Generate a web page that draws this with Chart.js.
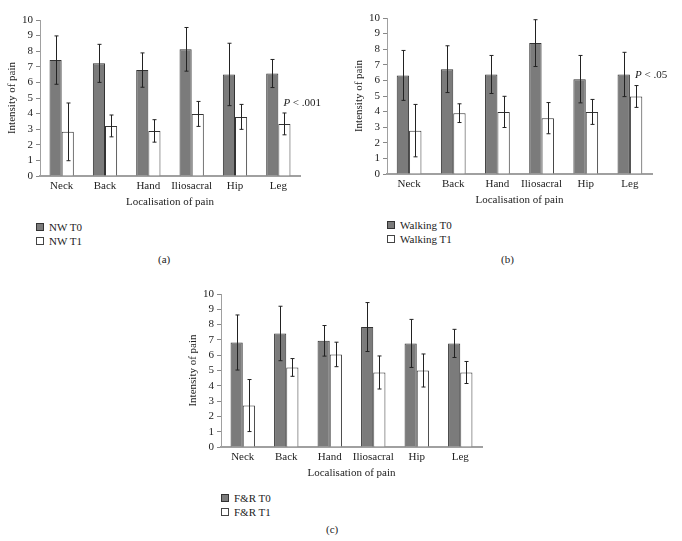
<!DOCTYPE html>
<html>
<head>
<meta charset="utf-8">
<script src="https://cdn.jsdelivr.net/npm/chart.js@4.4.1/dist/chart.umd.min.js"></script>
<style>
  body { margin: 0; background: #fff; }
  #wrap { position: relative; width: 682px; height: 541px; overflow: hidden; font-family: "Liberation Serif", "DejaVu Serif", serif; color: #222; }
  canvas { position: absolute; }
  .legend { position: absolute; font-size: 11px; line-height: 14px; }
  .legend div { white-space: nowrap; }
  .legend span.sw { display: inline-block; width: 6px; height: 6px; margin-right: 5px; vertical-align: 0px; }
  .cap { position: absolute; font-size: 11px; }
</style>
</head>
<body>
<div id="wrap">
  <canvas id="chartA" style="left:0px;top:0px"></canvas>
  <canvas id="chartB" style="left:347px;top:0px"></canvas>
  <canvas id="chartC" style="left:181px;top:274px"></canvas>
  <div class="legend" id="legendA" style="left:36px;top:220px"></div>
  <div class="legend" id="legendB" style="left:387px;top:218px"></div>
  <div class="legend" id="legendC" style="left:221px;top:491px"></div>
  <div class="cap" style="left:158px;top:253px">(a)</div>
  <div class="cap" style="left:501px;top:253px">(b)</div>
  <div class="cap" style="left:326px;top:523px">(c)</div>
</div>
<script>
// Dữ liệu
const categories = ['Neck', 'Back', 'Hand', 'Iliosacral', 'Hip', 'Leg'];

const nwT0 = [7.43, 7.22, 6.79, 8.12, 6.51, 6.57];
const nwT0Err = [1.55, 1.22, 1.1, 1.4, 2.0, 0.9];
const nwT1 = [2.83, 3.21, 2.89, 3.98, 3.79, 3.34];
const nwT1Err = [1.85, 0.7, 0.72, 0.8, 0.8, 0.7];

const walkT0 = [6.32, 6.72, 6.38, 8.39, 6.08, 6.38];
const walkT0Err = [1.6, 1.5, 1.22, 1.5, 1.52, 1.42];
const walkT1 = [2.78, 3.9, 3.98, 3.58, 3.98, 4.97];
const walkT1Err = [1.68, 0.6, 1.0, 1.0, 0.8, 0.7];

const frT0 = [6.83, 7.42, 6.94, 7.84, 6.77, 6.77];
const frT0Err = [1.8, 1.78, 1.0, 1.6, 1.57, 0.92];
const frT1 = [2.71, 5.2, 6.05, 4.87, 5.0, 4.87];
const frT1Err = [1.7, 0.58, 0.8, 1.08, 1.08, 0.72];

const yTicks = [0, 1, 2, 3, 4, 5, 6, 7, 8, 9, 10];

const FONT = '"Liberation Serif", "DejaVu Serif", serif';
const DARK = '#7b7b7b';

// Vẽ thanh sai số
const errorBarPlugin = {
    id: 'errorBars',
    afterDatasetsDraw(chart) {
        const ctx = chart.ctx;
        const yScale = chart.scales.y;
        chart.data.datasets.forEach((ds, di) => {
            const meta = chart.getDatasetMeta(di);
            ctx.save();
            ctx.strokeStyle = '#222';
            ctx.lineWidth = 1;
            meta.data.forEach((bar, i) => {
                const v = ds.data[i], e = ds.errors[i];
                const x = Math.round(bar.x) + 0.5;
                const yTop = yScale.getPixelForValue(v + e);
                const yBot = yScale.getPixelForValue(v - e);
                ctx.beginPath();
                ctx.moveTo(x, yTop); ctx.lineTo(x, yBot);
                ctx.moveTo(x - 2, yTop); ctx.lineTo(x + 2, yTop);
                ctx.moveTo(x - 2, yBot); ctx.lineTo(x + 2, yBot);
                ctx.stroke();
            });
            ctx.restore();
        });
    }
};

// Ghi chú giá trị P
const pNotePlugin = {
    id: 'pNote',
    afterDraw(chart, args, opts) {
        if (!opts || !opts.text) return;
        const ctx = chart.ctx;
        const meta = chart.getDatasetMeta(1);
        const bar = meta.data[opts.index];
        const x = bar.x - 1;
        const y = chart.scales.y.getPixelForValue(opts.value);
        ctx.save();
        ctx.fillStyle = '#222';
        ctx.textBaseline = 'middle';
        ctx.textAlign = 'left';
        ctx.font = 'italic 11px ' + FONT;
        ctx.fillText('P', x, y);
        const w = ctx.measureText('P ').width;
        ctx.font = '11px ' + FONT;
        ctx.fillText(opts.text, x + w, y);
        ctx.restore();
    }
};

function makeChart(canvasId, width, height, padTop, padRight, labels, t0, t0Err, t1, t1Err, pNote) {
    const canvas = document.getElementById(canvasId);
    canvas.width = width;
    canvas.height = height;
    canvas.style.width = width + 'px';
    canvas.style.height = height + 'px';
    return new Chart(canvas, {
        type: 'bar',
        data: {
            labels: categories,
            datasets: [
                { label: labels[0], data: t0, errors: t0Err, backgroundColor: DARK, borderColor: '#333', borderWidth: 1 },
                { label: labels[1], data: t1, errors: t1Err, backgroundColor: '#fff', borderColor: '#333', borderWidth: 1 }
            ]
        },
        options: {
            responsive: false,
            animation: false,
            devicePixelRatio: 1,
            layout: { padding: { top: padTop, right: padRight, left: 0, bottom: 0 } },
            datasets: { bar: { categoryPercentage: 0.56, barPercentage: 1.0 } },
            plugins: {
                legend: { display: false },
                tooltip: { enabled: false },
                pNote: pNote || {}
            },
            scales: {
                x: {
                    grid: { display: false, drawTicks: false },
                    border: { color: '#a0a0a0', width: 2 },
                    ticks: { color: '#222', font: { family: FONT, size: 11 }, padding: 4, maxRotation: 0, autoSkip: false },
                    title: { display: true, text: 'Localisation of pain', color: '#222', font: { family: FONT, size: 11 }, padding: { top: 0, bottom: 3 } },
                    afterFit(scale) { scale.height = 36; }
                },
                y: {
                    min: 0, max: 10,
                    afterBuildTicks(scale) { scale.ticks = yTicks.map(v => ({ value: v })); },
                    grid: { drawOnChartArea: false, drawTicks: true, tickLength: 4, color: '#888' },
                    border: { color: '#a0a0a0', width: 1 },
                    ticks: { color: '#222', font: { family: FONT, size: 11 }, padding: 3, autoSkip: false },
                    title: { display: true, text: 'Intensity of pain', color: '#222', font: { family: FONT, size: 11 }, padding: { top: 6, bottom: 0 } },
                    afterFit(scale) { scale.width = 40; }
                }
            }
        },
        plugins: [errorBarPlugin, pNotePlugin]
    });
}

function makeLegend(id, labels) {
    const el = document.getElementById(id);
    el.innerHTML =
        '<div><span class="sw" style="background:' + DARK + ';border:1px solid #333"></span>' + labels[0] + '</div>' +
        '<div><span class="sw" style="background:#fff;border:1px solid #444"></span>' + labels[1] + '</div>';
}

const labelsA = ['NW T0', 'NW T1'];
const labelsB = ['Walking T0', 'Walking T1'];
const labelsC = ['F&R T0', 'F&R T1'];

makeChart('chartA', 340, 212, 20, 40, labelsA, nwT0, nwT0Err, nwT1, nwT1Err, { text: '< .001', value: 4.7, index: 5 });
makeChart('chartB', 335, 210, 18, 30, labelsB, walkT0, walkT0Err, walkT1, walkT1Err, { text: '< .05', value: 6.36, index: 5 });
makeChart('chartC', 331, 209, 20, 30, labelsC, frT0, frT0Err, frT1, frT1Err, null);

makeLegend('legendA', labelsA);
makeLegend('legendB', labelsB);
makeLegend('legendC', ['F&amp;R T0', 'F&amp;R T1']);
</script>
</body>
</html>
